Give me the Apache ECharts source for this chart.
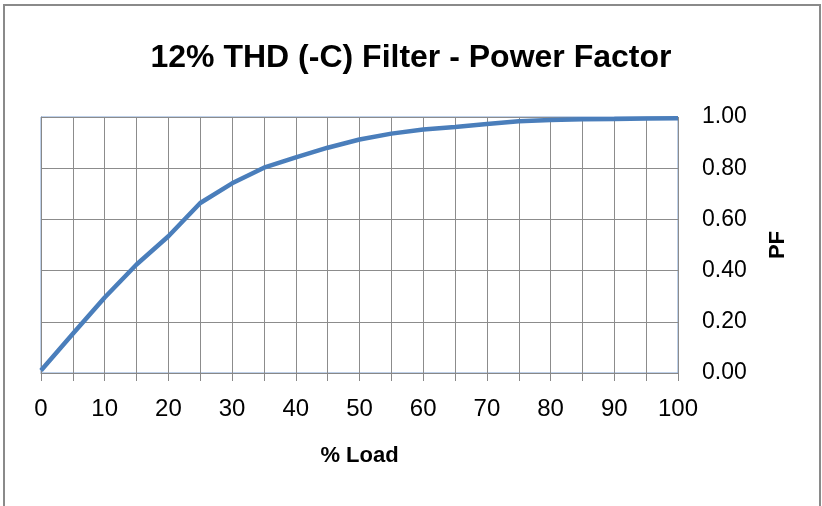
<!DOCTYPE html>
<html>
<head>
<meta charset="utf-8">
<script src="https://cdn.jsdelivr.net/npm/echarts@6/dist/echarts.min.js"></script>
<style>
  html, body { margin: 0; padding: 0; background: #fff; }
  #main { width: 822px; height: 506px; }
</style>
</head>
<body>
<div id="main"></div>
<script>
// data
const loadPct = [0, 5, 10, 15, 20, 25, 30, 35, 40, 45, 50, 55, 60, 65, 70, 75, 80, 85, 90, 95, 100];
const powerFactor = [0.01, 0.153, 0.295, 0.424, 0.534, 0.664, 0.741, 0.802, 0.842, 0.88, 0.912, 0.935, 0.951, 0.961, 0.973, 0.983, 0.988, 0.991, 0.992, 0.994, 0.995];
const yTicks = [0, 0.2, 0.4, 0.6, 0.8, 1.0];

const myChart = echarts.init(document.getElementById('main'));

const font = '"Liberation Sans", Arial, sans-serif';

const option = {
  backgroundColor: '#fff',
  animation: false,
  graphic: [
    {
      type: 'rect',
      shape: { x: 4, y: 5, width: 816, height: 540 },
      style: { fill: 'none', stroke: '#8a8a8a', lineWidth: 2 },
      silent: true
    }
  ],
  title: {
    text: '12% THD (-C) Filter - Power Factor',
    left: 'center',
    top: 37,
    textStyle: { fontFamily: font, fontWeight: 'bold', fontSize: 32, color: '#000' }
  },
  grid: {
    left: 41, right: 144, top: 117, bottom: 133,
    show: true, borderColor: '#7fa3d4', borderWidth: 1
  },
  xAxis: {
    type: 'value',
    min: 0, max: 100, interval: 5,
    name: '% Load',
    nameLocation: 'middle',
    nameGap: 72,
    nameTextStyle: { fontFamily: font, fontWeight: 'bold', fontSize: 22, color: '#000' },
    axisLine: { lineStyle: { color: '#888', width: 1 } },
    axisTick: { show: true, length: 8, lineStyle: { color: '#888' } },
    axisLabel: {
      margin: 24,
      fontFamily: font, fontSize: 24, color: '#000',
      formatter: v => (v % 10 === 0 ? String(v) : '')
    },
    splitLine: { show: true, lineStyle: { color: '#8c8c8c', width: 1 } }
  },
  yAxis: {
    type: 'value',
    position: 'right',
    min: 0, max: 1, interval: 0.2,
    name: 'PF',
    nameLocation: 'middle',
    nameGap: 89,
    nameRotate: 90,
    nameTextStyle: { fontFamily: font, fontWeight: 'bold', fontSize: 22, color: '#000' },
    axisLine: { show: true, lineStyle: { color: '#888', width: 1 } },
    axisTick: { show: true, length: 7, lineStyle: { color: '#888' } },
    axisLabel: {
      margin: 24,
      fontFamily: font, fontSize: 23, color: '#000',
      formatter: v => v.toFixed(2)
    },
    splitLine: { show: true, lineStyle: { color: '#8c8c8c', width: 1 } }
  },
  series: [
    {
      type: 'line',
      data: loadPct.map((x, i) => [x, powerFactor[i]]),
      showSymbol: false,
      smooth: false,
      lineStyle: { color: '#4a7ebb', width: 4.5 }
    }
  ]
};

myChart.setOption(option);
</script>
</body>
</html>
